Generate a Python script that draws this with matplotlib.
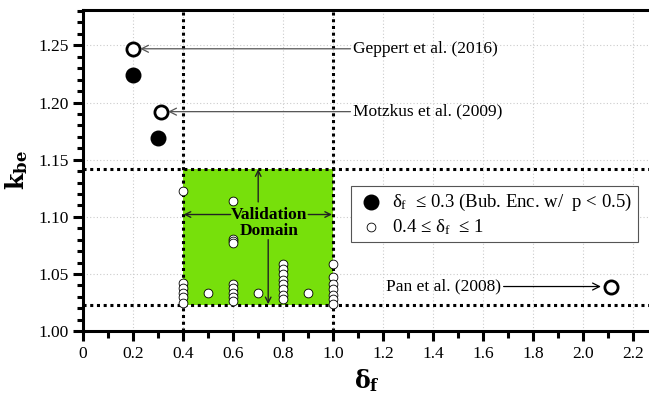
import matplotlib.pyplot as plt
from matplotlib.ticker import MultipleLocator, FuncFormatter
from matplotlib.patches import Rectangle

plt.rcParams['font.family'] = ['Liberation Serif', 'DejaVu Serif']
plt.rcParams['mathtext.fontset'] = 'dejavuserif'

# data
big_delta = [0.2, 0.3]
big_kbe = [1.224, 1.169]

small_delta = [0.4, 0.4, 0.4, 0.4, 0.4, 0.4,
               0.5,
               0.6, 0.6, 0.6, 0.6, 0.6, 0.6, 0.6, 0.6, 0.6,
               0.7,
               0.8, 0.8, 0.8, 0.8, 0.8, 0.8, 0.8, 0.8,
               0.9,
               1.0, 1.0, 1.0, 1.0, 1.0, 1.0, 1.0]
small_kbe = [1.123, 1.042, 1.038, 1.033, 1.030, 1.025,
             1.033,
             1.114, 1.081, 1.079, 1.077, 1.041, 1.038, 1.033, 1.030, 1.026,
             1.033,
             1.059, 1.054, 1.050, 1.045, 1.041, 1.037, 1.032, 1.028,
             1.033,
             1.059, 1.047, 1.041, 1.037, 1.032, 1.028, 1.024]

lit_names = ['Geppert et al. (2016)', 'Motzkus et al. (2009)', 'Pan et al. (2008)']
lit_delta = [0.2, 0.31, 2.11]
lit_kbe = [1.247, 1.192, 1.039]

dom_x = [0.4, 1.0]
dom_y = [1.0225, 1.1416]

fig = plt.figure(figsize=(6.49, 3.97), dpi=100)
ax = fig.add_axes([0.128, 0.166, 0.875, 0.809])

# validation domain
ax.add_patch(Rectangle((dom_x[0], dom_y[0]), dom_x[1] - dom_x[0], dom_y[1] - dom_y[0],
                       facecolor='#77e00b', edgecolor='none', zorder=1))
for xv in dom_x:
    ax.axvline(xv, color='k', ls=(0, (1, 1.2)), lw=2.2, zorder=2)
for yv in dom_y:
    ax.axhline(yv, color='k', ls=(0, (1, 1.2)), lw=2.2, zorder=2)

ax.scatter(big_delta, big_kbe, s=110, c='k', zorder=4,
           label='$\\mathregular{\\delta_f}$  \u2264 0.3 (Bub. Enc. w/  p < 0.5)')
ax.scatter(small_delta, small_kbe, s=40, facecolor='white', edgecolor='k', lw=0.6, zorder=4,
           label='0.4 \u2264 $\\mathregular{\\delta_f}$  \u2264 1')
ax.scatter(lit_delta, lit_kbe, s=90, facecolor='white', edgecolor='k', lw=2, zorder=4)

# literature annotations
arw = dict(arrowstyle='->', color='#555555', lw=0.9, shrinkA=0, shrinkB=0)
ax.annotate(lit_names[0], xy=(0.228, lit_kbe[0]), xytext=(1.08, lit_kbe[0]),
            va='center', fontsize=12.5, arrowprops=arw, zorder=5)
ax.annotate(lit_names[1], xy=(0.34, lit_kbe[1]), xytext=(1.08, lit_kbe[1]),
            va='center', fontsize=12.5, arrowprops=arw, zorder=5)
ax.annotate(lit_names[2], xy=(2.07, lit_kbe[2]), xytext=(1.67, lit_kbe[2]),
            va='center', ha='right', fontsize=12.5, arrowprops=dict(arw, color='k'), zorder=5)

# validation domain text and arrows
tx, ty = 0.745, 1.095
ax.text(tx, ty, 'Validation\nDomain', ha='center', va='center', fontsize=12.5,
        fontweight='bold', linespacing=1.0, zorder=6)
darw = dict(arrowstyle='->', color='#222222', lw=1.0, shrinkA=0, shrinkB=0)
ax.annotate('', xy=(0.402, 1.102), xytext=(0.59, 1.102), arrowprops=darw, zorder=5)
ax.annotate('', xy=(0.995, 1.102), xytext=(0.9, 1.102), arrowprops=darw, zorder=5)
ax.annotate('', xy=(0.7, 1.1416), xytext=(0.7, 1.113), arrowprops=darw, zorder=5)
ax.annotate('', xy=(0.74, 1.0235), xytext=(0.74, 1.08), arrowprops=darw, zorder=5)

ax.set_xlim(0, 2.27)
ax.set_ylim(1.0, 1.281)
ax.xaxis.set_major_locator(MultipleLocator(0.2))
ax.xaxis.set_minor_locator(MultipleLocator(0.1))
ax.yaxis.set_major_locator(MultipleLocator(0.05))
ax.yaxis.set_minor_locator(MultipleLocator(0.01))
ax.xaxis.set_major_formatter(FuncFormatter(lambda v, p: '0' if abs(v) < 1e-9 else '%.1f' % v))
ax.yaxis.set_major_formatter(FuncFormatter(lambda v, p: '%.2f' % v))
ax.tick_params(which='major', direction='out', length=7, width=2.2, labelsize=12.5)
ax.tick_params(which='minor', direction='out', length=4, width=2.2)
ax.tick_params(axis='x', which='minor', length=5)
ax.grid(which='major', color='#cccccc', ls=(0, (1, 2)), lw=0.8, zorder=0)
ax.set_axisbelow(True)

for side in ['left', 'bottom', 'top']:
    ax.spines[side].set_linewidth(2.2)
ax.spines['right'].set_visible(False)

ax.set_xlabel(r'$\mathbf{\delta_f}$', fontsize=17, labelpad=4)
ax.set_ylabel(r'$\mathbf{k_{be}}$', fontsize=17, labelpad=6)

leg = ax.legend(loc='upper left', bbox_to_anchor=(0.455, 0.48), fontsize=13.5,
                frameon=True, fancybox=False, edgecolor='#555555', framealpha=1,
                handletextpad=0.4, borderpad=0.3, labelspacing=0.2, handlelength=1.5)
leg.get_frame().set_linewidth(0.8)

fig.savefig('out.png', dpi=100)
